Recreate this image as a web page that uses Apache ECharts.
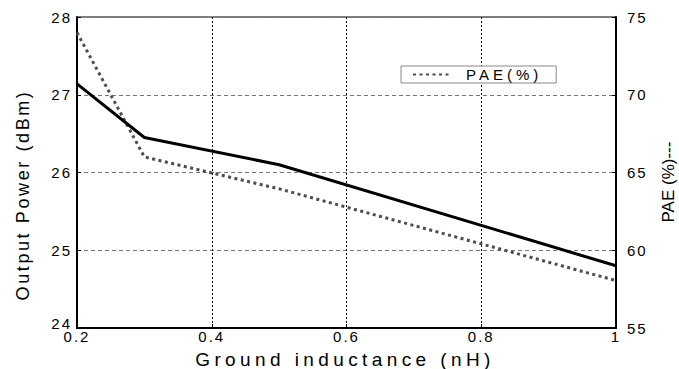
<!DOCTYPE html>
<html>
<head>
<meta charset="utf-8">
<script src="https://cdn.jsdelivr.net/npm/echarts@6/dist/echarts.min.js"></script>
<style>
html,body{margin:0;padding:0;background:#fff;}
#chart{width:679px;height:369px;}
</style>
</head>
<body>
<div id="chart"></div>
<script>
// ---- data ----
const inductance = [0.2, 0.3, 0.5, 1.0];          // nH
const outputPower = [27.14, 26.45, 26.1, 24.8];   // dBm (left axis, solid)
const paePercent = [74.0, 66.0, 63.95, 58.05];    // % (right axis, dotted)
const xTitle = 'Ground inductance (nH)';
const yLeftTitle = 'Output Power (dBm)';
const yRightTitle = 'PAE (%)---';
const paeName = 'PAE(%)';
const powerName = 'Output Power';

const FONT = "'Liberation Sans', Arial, Helvetica, sans-serif";

const chart = echarts.init(document.getElementById('chart'), null, {renderer: 'svg'});

const option = {
  animation: false,
  backgroundColor: '#fff',
  grid: {left: 77, right: 63, top: 17, bottom: 41, show: true, borderColor: '#000', borderWidth: 1, backgroundColor: 'transparent'},
  legend: {
    data: [paeName],
    left: 401, top: 66,
    orient: 'horizontal',
    padding: [1, 38, 1, 11],
    itemWidth: 38, itemHeight: 14, itemGap: 0,
    borderColor: '#888', borderWidth: 1, borderRadius: 0,
    backgroundColor: '#fff',
    itemStyle: {opacity: 0, color: 'transparent', borderWidth: 0},
    textStyle: {fontFamily: FONT, fontSize: 15, color: '#000', padding: [0, 0, 0, 10]}
  },
  xAxis: {
    type: 'value', min: 0.2, max: 1, interval: 0.2,
    axisLine: {show: true, onZero: false, lineStyle: {color: '#000', width: 2}},
    axisTick: {show: true, inside: true, length: 4, lineStyle: {color: '#000'}},
    axisLabel: {fontFamily: FONT, fontSize: 15, color: '#000', margin: 1,
      formatter: v => String(+v.toFixed(1))},
    splitLine: {show: true, lineStyle: {color: '#000', type: [2, 2], width: 1}}
  },
  yAxis: [
    {
      type: 'value', min: 24, max: 28, interval: 1, position: 'left',
      axisLine: {show: true, lineStyle: {color: '#000', width: 2}},
      axisTick: {show: true, inside: true, length: 4, lineStyle: {color: '#000'}},
      axisLabel: {fontFamily: FONT, fontSize: 15, color: '#000', margin: 5,
        formatter: v => (v === 24 ? '{lo|' + v + '}' : String(v)),
        rich: {lo: {fontFamily: FONT, fontSize: 15, color: '#000', padding: [0, 0, 9, 0]}}},
      splitLine: {show: true, lineStyle: {color: '#777', type: [4, 3], width: 1}}
    },
    {
      type: 'value', min: 55, max: 75, interval: 5, position: 'right',
      axisLine: {show: true, lineStyle: {color: '#000', width: 2}},
      axisTick: {show: true, inside: true, length: 4, lineStyle: {color: '#000'}},
      axisLabel: {fontFamily: FONT, fontSize: 15, color: '#000', margin: 11},
      splitLine: {show: false}
    }
  ],
  series: [
    {
      name: paeName, type: 'line', yAxisIndex: 1,
      data: inductance.map((x, i) => [x, paePercent[i]]),
      symbol: 'none', showSymbol: false,
      lineStyle: {color: '#4d4d4d', width: 3, type: [3, 3.5], cap: 'butt'},
      itemStyle: {color: '#4d4d4d'}
    },
    {
      name: powerName, type: 'line', yAxisIndex: 0,
      data: inductance.map((x, i) => [x, outputPower[i]]),
      symbol: 'none', showSymbol: false,
      lineStyle: {color: '#000', width: 3, type: 'solid'},
      itemStyle: {color: '#000'}
    }
  ],
  graphic: [
    {type: 'text', x: 345, y: 359, silent: true,
      style: {text: xTitle, fontFamily: FONT, fontSize: 19, fill: '#000', textAlign: 'center', textVerticalAlign: 'middle'}},
    {type: 'text', x: 23, y: 195, rotation: Math.PI / 2, silent: true,
      style: {text: yLeftTitle, fontFamily: FONT, fontSize: 18, fill: '#000', textAlign: 'center', textVerticalAlign: 'middle'}},
    {type: 'text', x: 668, y: 182, rotation: Math.PI / 2, silent: true,
      style: {text: yRightTitle, fontFamily: FONT, fontSize: 17, fill: '#000', textAlign: 'center', textVerticalAlign: 'middle'}}
  ]
};

chart.setOption(option);

function applySpacing() {
  const texts = document.querySelectorAll('#chart svg text');
  texts.forEach(t => {
    const s = (t.textContent || '').trim();
    let ls = null;
    if (s === xTitle) ls = 4.4;
    else if (s === yLeftTitle) ls = 2.6;
    else if (s === paeName) ls = 4;
    else if (/^[0-9.]+$/.test(s)) ls = 2;
    if (ls !== null) t.style.letterSpacing = ls + 'px';
  });
}
applySpacing();
chart.on('finished', applySpacing);
setTimeout(applySpacing, 50);
setTimeout(applySpacing, 300);
</script>
</body>
</html>
